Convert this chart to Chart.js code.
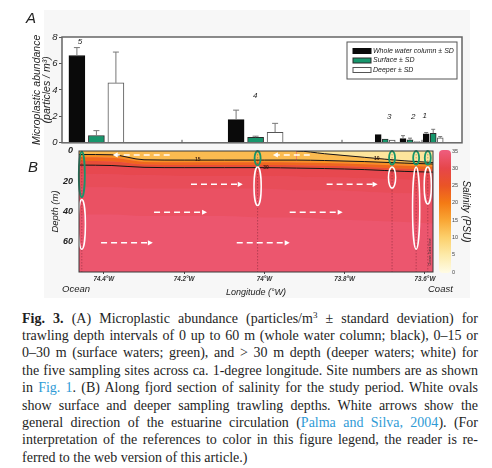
<!DOCTYPE html>
<html>
<head>
<meta charset="utf-8">
<script src="https://cdn.jsdelivr.net/npm/chart.js@4.4.1/dist/chart.umd.min.js"></script>
<style>
  html, body { margin: 0; padding: 0; background: #fff; }
  body { width: 492px; height: 468px; position: relative; overflow: hidden; font-family: "Liberation Sans", Arial, sans-serif; }
  #panelBg { position: absolute; left: 44px; top: 10px; width: 426px; height: 288px; background: #f7f7f7; }
  .box { position: absolute; left: 0; width: 492px; }
  #boxA { top: 0; height: 150px; }
  #boxB { top: 140px; height: 160px; }
  .tag { position: absolute; font-style: italic; color: #222; line-height: 1; font-size: 15px; }
  #tagA { left: 26px; top: 10px; }
  #tagB { left: 28px; top: 159px; }
  .end { position: absolute; top: 284px; font-style: italic; font-size: 9.5px; line-height: 1; color: #222; }
  .cap { position: absolute; left: 22px; top: 309.6px; width: 456px; font-family: "Liberation Serif", "Times New Roman", serif; font-size: 14px; line-height: 17.4px; color: #1e1e1e; }
  .cap .ln { white-space: nowrap; }
  .cap a { color: #2f9bd6; text-decoration: none; }
  .cap sup { font-size: 9px; line-height: 0; vertical-align: 5px; }
</style>
</head>
<body>
<div id="panelBg"></div>
<div class="box" id="boxA"><canvas id="chartA"></canvas></div>
<div class="box" id="boxB"><canvas id="chartB"></canvas></div>
<div class="tag" id="tagA">A</div>
<div class="tag" id="tagB">B</div>
<div class="end" style="left:62px">Ocean</div>
<div class="end" style="left:428px">Coast</div>

<div class="cap">
  <div class="ln"><span><b>Fig. 3.</b> (A) Microplastic abundance (particles/m<sup>3</sup> ± standard deviation) for</span></div>
  <div class="ln"><span>trawling depth intervals of 0 up to 60 m (whole water column; black), 0–15 or</span></div>
  <div class="ln"><span>0–30 m (surface waters; green), and &gt; 30 m depth (deeper waters; white) for</span></div>
  <div class="ln"><span>the five sampling sites across ca. 1-degree longitude. Site numbers are as shown</span></div>
  <div class="ln"><span>in <a>Fig. 1</a>. (B) Along fjord section of salinity for the study period. White ovals</span></div>
  <div class="ln"><span>show surface and deeper sampling trawling depths. White arrows show the</span></div>
  <div class="ln"><span>general direction of the estuarine circulation (<a>Palma and Silva, 2004</a>). (For</span></div>
  <div class="ln"><span>interpretation of the references to color in this figure legend, the reader is re-</span></div>
  <div class="ln"><span>ferred to the web version of this article.)</span></div>
</div>

<script>
  // ---- Panel A data: sites 5..1 from ocean to coast
  const sites = ['5', '4', '3', '2', '1'];
  const barLon = [-74.414, -74.016, -73.692, -73.630, -73.572];   // bar group centres in panel A
  const siteLon = [-74.455, -74.017, -73.682, -73.622, -73.593];  // sampling stations
  const seriesNames = ['Whole water column ± SD', 'Surface ± SD', 'Deeper ± SD'];
  const wholeMean = [6.6, 1.75, 0.62, 0.32, 0.68];
  const wholeSD = [0.6, 0.72, 0, 0.22, 0.1];
  const surfMean = [0.55, 0.42, 0.28, 0.22, 0.72];
  const surfSD = [0.37, 0.08, 0, 0.13, 0.3];
  const deepMean = [4.53, 0.8, 0.2, 0.1, 0.37];
  const deepSD = [2.33, 0.67, 0, 0, 0.1];
  const abundanceTicks = [0, 2, 4, 6, 8];

  // ---- Panel B data
  const lonTicks = [-74.4, -74.2, -74.0, -73.8, -73.6];
  const lonTickLabels = ['74.4°W', '74.2°W', '74°W', '73.8°W', '73.6°W'];
  const depthTicks = [0, 20, 40, 60];
  const salinityTicks = [0, 5, 10, 15, 20, 25, 30, 35];
  const sectionLon = [-74.462, -74.38, -74.3, -74.2, -74.1, -74.0, -73.92, -73.85, -73.75, -73.65, -73.58];
  const iso10 = [0, 0, 0, 0, 0, 0, 0, 1.8, 4.2, 6.5, 7.6];
  const iso15 = [2.3, 2.5, 5.8, 6, 6, 6, 6, 6.3, 7, 8, 8.6];
  const iso20 = [4.2, 4.5, 7.2, 7.5, 7.5, 7.5, 7.6, 7.9, 8.7, 9.8, 10.4];
  const iso25 = [6.6, 6.9, 8.9, 9.2, 9.2, 9.2, 9.4, 9.7, 10.5, 11.7, 12.2];
  const iso30 = [9.3, 9.6, 10.8, 11, 11, 11, 11.3, 11.6, 12.3, 13.5, 14];
  const iso31 = [15, 15.5, 16, 16.5, 16.5, 16.5, 17, 17.5, 18, 19, 19.5];
  const iso32 = [24, 24, 25, 25, 25, 25, 26, 26, 27, 28, 28];
  const iso33 = [42, 42, 43, 43, 43, 44, 44, 45, 46, 47, 48];
  // sampled layers (depth, m)
  const surfTop = [0.5, 0, 0, 0, 0];
  const surfBottom = [30.5, 9.5, 9, 9, 9];
  const deepTop = [32, 10.5, 10.5, 10.5, 10.5];
  const deepBottom = [65, 36, 24.5, 65, 35];
  // estuarine circulation arrows (tail -> head)
  const flowDepth = [2.6, 2.6, 22, 22, 40.5, 40.5, 60.7, 60.7];
  const flowFrom = [-74.236, -73.887, -74.183, -73.845, -74.275, -73.937, -74.407, -74.069];
  const flowTo = [-74.378, -73.979, -74.054, -73.718, -74.143, -73.805, -74.278, -73.937];
  // contour labels
  const contourText = ['15', '30', '10'];
  const contourLon = [-74.166, -73.996, -73.72];
  const contourDepth = [6, 11, 5];

  Chart.defaults.font.family = '"Liberation Sans", Arial, sans-serif';
  Chart.defaults.color = '#222';

  // colour map for salinity
  const salStops = [[0, '#fffbe3'], [5, '#fdeaa8'], [10, '#fcd06c'], [15, '#f9a634'], [20, '#f47a14'], [25, '#ea5426'], [30, '#e6464a'], [35, '#ee5c7c']];
  function hex(c) { return [1, 3, 5].map(i => parseInt(c.substr(i, 2), 16)); }
  function salColor(s) {
    for (let i = 1; i < salStops.length; i++) {
      const [v0, c0] = salStops[i - 1], [v1, c1] = salStops[i];
      if (s <= v1) {
        const t = (s - v0) / (v1 - v0), a = hex(c0), b = hex(c1);
        return 'rgb(' + a.map((x, k) => Math.round(x + (b[k] - x) * t)).join(',') + ')';
      }
    }
    return salStops[salStops.length - 1][1];
  }

  // ================= Panel A =================
  const groups = [
    { name: seriesNames[0], mean: wholeMean, sd: wholeSD, fill: '#0a0a0a', border: '#0a0a0a' },
    { name: seriesNames[1], mean: surfMean, sd: surfSD, fill: '#17966c', border: '#2b2b2b' },
    { name: seriesNames[2], mean: deepMean, sd: deepSD, fill: '#ffffff', border: '#555555' }
  ];
  const isWide = i => i < 2; // sites 5 and 4 are drawn with wide bars
  const barSets = [];
  [true, false].forEach(wide => groups.forEach(g => barSets.push({
    label: g.name,
    data: barLon.map((x, i) => ({ x, y: isWide(i) === wide ? g.mean[i] : null })),
    sd: g.sd,
    backgroundColor: g.fill,
    borderColor: g.border,
    borderWidth: 1,
    barThickness: wide ? 19.5 : 7,
    maxBarThickness: wide ? 16 : 6,
    skipNull: true
  })));

  const panelA = {
    id: 'panelA',
    beforeDraw(chart) {
      const { ctx, chartArea: a } = chart;
      ctx.save();
      ctx.fillStyle = '#fff';
      ctx.fillRect(a.left, a.top, a.right - a.left, a.bottom - a.top);
      ctx.restore();
    },
    beforeDatasetsDraw(chart) {
      // inward ticks on the longitude axis
      const { ctx, chartArea: a, scales: { x } } = chart;
      ctx.save();
      ctx.strokeStyle = '#555';
      ctx.lineWidth = 1;
      x.ticks.forEach(t => {
        const px = x.getPixelForValue(t.value);
        ctx.beginPath(); ctx.moveTo(px, a.bottom); ctx.lineTo(px, a.bottom - 3); ctx.stroke();
      });
      ctx.restore();
    },
    afterDatasetsDraw(chart) {
      const { ctx, chartArea: a, scales: { x, y } } = chart;
      ctx.save();
      // error bars
      ctx.strokeStyle = '#777';
      ctx.lineWidth = 1;
      chart.data.datasets.forEach((ds, di) => {
        chart.getDatasetMeta(di).data.forEach((bar, i) => {
          const v = ds.data[i].y;
          if (v == null || !ds.sd[i]) return;
          const top = y.getPixelForValue(v + ds.sd[i]);
          const half = bar.width > 10 ? 3 : 2;
          ctx.beginPath();
          ctx.moveTo(bar.x, bar.y); ctx.lineTo(bar.x, top);
          ctx.moveTo(bar.x - half, top); ctx.lineTo(bar.x + half, top);
          ctx.stroke();
        });
      });
      // frame
      ctx.strokeStyle = '#666';
      ctx.lineWidth = 1.5;
      ctx.strokeRect(a.left, a.top, a.right - a.left, a.bottom - a.top);
      // site numbers
      ctx.fillStyle = '#222';
      ctx.font = 'italic 8px "Liberation Sans", Arial, sans-serif';
      ctx.textAlign = 'center';
      ctx.textBaseline = 'middle';
      sites.forEach((s, i) => {
        const peak = Math.max(wholeMean[i] + wholeSD[i], surfMean[i] + surfSD[i], deepMean[i] + deepSD[i]);
        let py = Math.min(y.getPixelForValue(peak) - 14, y.getPixelForValue(2));
        py = Math.max(py, a.top + 5);
        ctx.fillText(s, x.getPixelForValue(siteLon[i]), py);
      });
      // legend
      const lx = a.right - 115, ly = a.top + 5;
      ctx.fillStyle = '#fff';
      ctx.fillRect(lx, ly, 110, 37);
      ctx.strokeStyle = '#555';
      ctx.lineWidth = 1;
      ctx.strokeRect(lx, ly, 110, 37);
      ctx.textAlign = 'left';
      ctx.font = 'italic 7px "Liberation Sans", Arial, sans-serif';
      groups.forEach((g, k) => {
        const ry = ly + 9 + k * 9.5;
        ctx.fillStyle = g.fill;
        ctx.fillRect(lx + 6, ry - 2.5, 18, 5);
        ctx.strokeStyle = g.border;
        ctx.strokeRect(lx + 6, ry - 2.5, 18, 5);
        ctx.fillStyle = '#222';
        ctx.fillText(g.name, lx + 26, ry);
      });
      ctx.restore();
    }
  };

  new Chart(document.getElementById('chartA'), {
    type: 'bar',
    data: { datasets: barSets },
    options: {
      responsive: true,
      maintainAspectRatio: false,
      animation: false,
      events: [],
      layout: { padding: { top: 37, right: 30, left: 0, bottom: 0 } },
      plugins: { legend: { display: false }, tooltip: { enabled: false } },
      scales: {
        x: {
          type: 'linear', min: -74.5, max: -73.5, offset: false,
          grid: { display: false, offset: false, drawTicks: false },
          border: { display: false },
          ticks: { display: false },
          afterBuildTicks: s => { s.ticks = lonTicks.map(v => ({ value: v })); },
          afterFit: s => { s.height = 6; }
        },
        y: {
          min: 0, max: 8,
          grid: { drawOnChartArea: false, tickLength: 3, color: '#555' },
          border: { display: false },
          ticks: { padding: 1.5, font: { size: 9.5, style: 'italic' }, color: '#222' },
          afterBuildTicks: s => { s.ticks = abundanceTicks.map(v => ({ value: v })); },
          title: {
            display: true,
            text: ['Microplastic abundance', '(particles / m³)'],
            font: { size: 10.5, style: 'italic', lineHeight: 0.95 },
            color: '#222',
            padding: { top: 31.7, bottom: 0 }
          },
          afterFit: s => { s.width = 62; }
        }
      }
    },
    plugins: [panelA]
  });

  // ================= Panel B =================
  const isohalines = [
    { level: 10, depth: iso10, drawn: true },
    { level: 15, depth: iso15, drawn: true },
    { level: 20, depth: iso20 },
    { level: 25, depth: iso25 },
    { level: 30, depth: iso30, drawn: true },
    { level: 31, depth: iso31 },
    { level: 32, depth: iso32 },
    { level: 33, depth: iso33 }
  ];
  const lineColor = '#151515';
  const bandSets = isohalines.map((h, k) => {
    const upper = k === 0 ? 2 : isohalines[k - 1].level;
    const ds = {
      data: sectionLon.map((x, i) => ({ x, y: h.depth[i] })),
      fill: k === 0 ? { value: 0 } : '-1',
      backgroundColor: salColor((upper + h.level) / 2),
      borderColor: h.drawn ? lineColor : 'rgba(0,0,0,0)',
      borderWidth: h.drawn ? 1 : 0,
      pointRadius: 0,
      cubicInterpolationMode: 'monotone'
    };
    if (k === 0) {
      ds.segment = { borderColor: c => (c.p0.parsed.y === 0 && c.p1.parsed.y === 0) ? 'rgba(0,0,0,0)' : lineColor };
    }
    return ds;
  });
  const stationSets = siteLon.map(lon => ({
    data: [{ x: lon, y: 0 }, { x: lon, y: 80 }],
    borderColor: 'rgba(80,20,35,0.5)',
    borderWidth: 0.7,
    borderDash: [1.5, 1.5],
    pointRadius: 0,
    fill: false,
    order: -1
  }));

  function oval(ctx, cx, y0, y1, rx, color, lw) {
    ctx.beginPath();
    ctx.ellipse(cx, (y0 + y1) / 2, rx, (y1 - y0) / 2, 0, 0, Math.PI * 2);
    ctx.strokeStyle = color;
    ctx.lineWidth = lw;
    ctx.stroke();
  }
  function arrow(ctx, x0, x1, y) {
    const dir = Math.sign(x1 - x0);
    ctx.setLineDash([6, 4]);
    ctx.beginPath(); ctx.moveTo(x0, y); ctx.lineTo(x1 - dir * 4, y); ctx.stroke();
    ctx.setLineDash([]);
    ctx.beginPath();
    ctx.moveTo(x1, y); ctx.lineTo(x1 - dir * 5, y - 2.6); ctx.lineTo(x1 - dir * 5, y + 2.6);
    ctx.closePath(); ctx.fill();
  }

  const panelB = {
    id: 'panelB',
    beforeDatasetsDraw(chart) {
      const { ctx, chartArea: a } = chart;
      ctx.save();
      ctx.fillStyle = salColor(33.6);
      ctx.fillRect(a.left, a.top, a.right - a.left, a.bottom - a.top);
      ctx.restore();
    },
    afterDatasetsDraw(chart) {
      const { ctx, chartArea: a, scales: { x, y } } = chart;
      ctx.save();
      // contour labels
      ctx.font = 'bold 5px "Liberation Sans", Arial, sans-serif';
      ctx.textAlign = 'center';
      ctx.textBaseline = 'middle';
      ctx.fillStyle = '#3a1a10';
      contourText.forEach((t, i) => ctx.fillText(t, x.getPixelForValue(contourLon[i]), y.getPixelForValue(contourDepth[i])));
      // circulation arrows
      ctx.strokeStyle = '#fff';
      ctx.fillStyle = '#fff';
      ctx.lineWidth = 1.6;
      flowDepth.forEach((d, i) => arrow(ctx, x.getPixelForValue(flowFrom[i]), x.getPixelForValue(flowTo[i]), y.getPixelForValue(d)));
      // sampled layers
      siteLon.forEach((lon, i) => {
        const cx = x.getPixelForValue(lon);
        oval(ctx, cx, y.getPixelForValue(deepTop[i]), y.getPixelForValue(deepBottom[i]), 3.6, '#ffffff', 1.5);
        oval(ctx, cx, y.getPixelForValue(surfTop[i]), y.getPixelForValue(surfBottom[i]), 3, '#16956b', 1.8);
      });
      // frame
      ctx.strokeStyle = '#3a3a3a';
      ctx.lineWidth = 1;
      ctx.strokeRect(a.left, a.top, a.right - a.left, a.bottom - a.top);
      // watermark
      ctx.translate(a.right - 3, a.bottom - 20);
      ctx.rotate(-Math.PI / 2);
      ctx.fillStyle = '#333';
      ctx.font = '3.5px "Liberation Sans", Arial, sans-serif';
      ctx.fillText('Ocean Data View', 0, 0);
      ctx.restore();
    },
    afterDraw(chart) {
      // colour bar on the salinity axis
      const { ctx, chartArea: a, scales: { sal } } = chart;
      const y0 = sal.getPixelForValue(0), y1 = sal.getPixelForValue(35);
      const g = ctx.createLinearGradient(0, y0, 0, y1);
      salStops.forEach(([v, c]) => g.addColorStop(v / 35, c));
      ctx.save();
      ctx.fillStyle = g;
      ctx.beginPath();
      ctx.roundRect(a.right + 6, y1 - 1, 12, y0 - y1 + 2, 4);
      ctx.fill();
      ctx.restore();
    }
  };

  new Chart(document.getElementById('chartB'), {
    type: 'line',
    data: { datasets: bandSets.concat(stationSets) },
    options: {
      responsive: true,
      maintainAspectRatio: false,
      animation: false,
      events: [],
      layout: { padding: { top: 11, right: 0, left: 0, bottom: 0 } },
      plugins: { legend: { display: false }, tooltip: { enabled: false } },
      scales: {
        x: {
          type: 'linear', min: -74.462, max: -73.58,
          grid: { drawOnChartArea: false, tickLength: 2, color: '#444' },
          border: { display: false },
          ticks: {
            padding: 1, maxRotation: 0, autoSkip: false,
            font: { size: 6.3, style: 'italic', weight: 'bold' }, color: '#333',
            callback: v => lonTickLabels[lonTicks.indexOf(v)]
          },
          afterBuildTicks: s => { s.ticks = lonTicks.map(v => ({ value: v })); },
          title: {
            display: true, text: 'Longitude (°W)',
            font: { size: 9, style: 'italic', lineHeight: 1.2 }, color: '#222',
            padding: { top: 0, bottom: 2.6 }
          },
          afterFit: s => { s.height = 28; }
        },
        y: {
          reverse: true, min: 0, max: 80,
          grid: { display: false, drawTicks: true, tickLength: 4 },
          border: { display: false },
          ticks: { padding: 2, font: { size: 9, style: 'italic', weight: 'bold' }, color: '#222' },
          afterBuildTicks: s => { s.ticks = depthTicks.map(v => ({ value: v })); },
          title: {
            display: true, text: 'Depth (m)',
            font: { size: 9.5, style: 'italic', lineHeight: 1.2 }, color: '#222',
            padding: { top: 49.3, bottom: 0 }
          },
          afterFit: s => { s.width = 79; }
        },
        sal: {
          type: 'linear', axis: 'y', position: 'right', min: 0, max: 35,
          grid: { display: false, drawOnChartArea: false, drawTicks: true, tickLength: 17 },
          border: { display: false },
          ticks: { padding: 2, font: { size: 5.5 }, color: '#444' },
          afterBuildTicks: s => { s.ticks = salinityTicks.map(v => ({ value: v })); },
          title: {
            display: true, text: 'Salinity (PSU)',
            font: { size: 10, style: 'italic', lineHeight: 1.2 }, color: '#222',
            padding: { top: 20, bottom: 0 }
          },
          afterFit: s => { s.width = 59; }
        }
      }
    },
    plugins: [panelB]
  });

  // justify caption lines to the column width
  function fitCaption() {
    const lines = document.querySelectorAll('.cap .ln');
    lines.forEach((el, i) => {
      if (i === lines.length - 1) return;
      el.style.wordSpacing = '0px';
      const w = el.firstElementChild.getBoundingClientRect().width;
      const spaces = (el.textContent.trim().match(/ /g) || []).length;
      el.style.wordSpacing = ((456 - w) / spaces) + 'px';
    });
  }
  fitCaption();
  document.fonts.ready.then(fitCaption);
</script>
</body>
</html>
